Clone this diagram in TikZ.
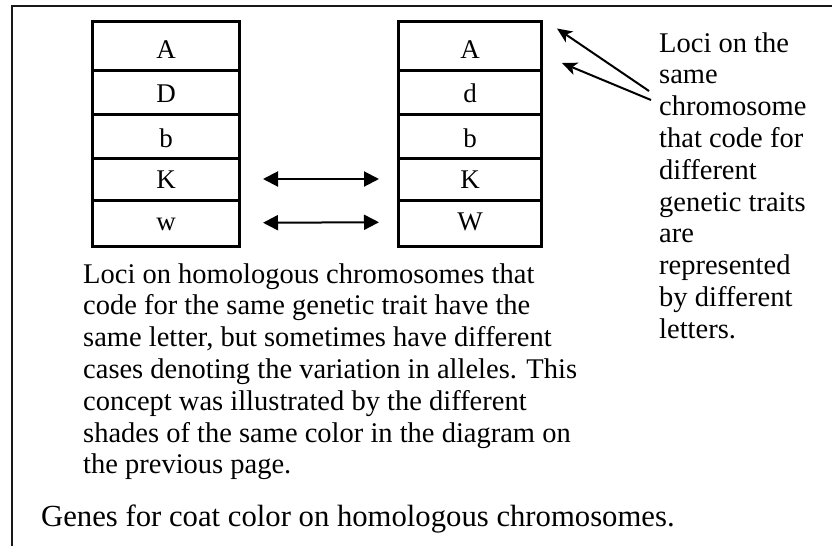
\documentclass[tikz,border=0pt]{standalone}
\usepackage{fontspec}
\setmainfont{Liberation Serif}
\usetikzlibrary{arrows.meta}
\begin{document}
\begin{tikzpicture}[x=1pt,y=-1pt,
  cell/.style={draw, line width=3pt, inner sep=0pt, outer sep=0pt},
  leftcell/.style={cell, minimum width=147pt},
  rightcell/.style={cell, minimum width=143pt},
  locus/.style={anchor=base, inner sep=0pt, font=\fontsize{27}{32}\selectfont},
  pairarrow/.style={line width=2pt,
    {Triangle[length=15pt,width=15pt]}-{Triangle[length=15pt,width=15pt]}},
  pointer/.style={line width=2pt, -{Stealth[length=15pt,width=13pt,inset=4pt]}},
  note/.style={anchor=base west, align=left, inner sep=0pt,
    font=\fontsize{28.5}{31.8}\selectfont}]
\useasboundingbox (0,0) rectangle (832,546);

% frame
\draw[line width=2pt, black!90] (12,546) -- (12,6) -- (832,6);

% left chromosome
\node[leftcell, minimum height=48.5pt] (L1) at (166,45.75) {};
\node[leftcell, minimum height=44pt]   (L2) at (166,92) {};
\node[leftcell, minimum height=44pt]   (L3) at (166,136) {};
\node[leftcell, minimum height=42pt]   (L4) at (166,179) {};
\node[leftcell, minimum height=46.5pt] (L5) at (166,223.25) {};
\node[locus] (la) at (166,58)  {A};
\node[locus] (ld) at (166,102) {D};
\node[locus] (lb) at (166,147) {b};
\node[locus] (lk) at (166,188) {K};
\node[locus] (lw) at (166,230) {w};

% right chromosome
\node[rightcell, minimum height=48.5pt] (R1) at (470,45.75) {};
\node[rightcell, minimum height=44pt]   (R2) at (470,92) {};
\node[rightcell, minimum height=44pt]   (R3) at (470,136) {};
\node[rightcell, minimum height=42pt]   (R4) at (470,179) {};
\node[rightcell, minimum height=46.5pt] (R5) at (470,223.25) {};
\node[locus] (ra) at (470,58)  {A};
\node[locus] (rd) at (470,102) {d};
\node[locus] (rb) at (470,147) {b};
\node[locus] (rk) at (470,188) {K};
\node[locus] (rw) at (470,230) {W};

% homologous loci
\draw[pairarrow] ([xshift=23.5pt]L4.east) -- ([xshift=-19.5pt]R4.west);
\draw[pairarrow] ([xshift=23.5pt,yshift=0.5pt]L5.east) -- ([xshift=-19.5pt,yshift=1pt]R5.west);

% loci on the same chromosome
\coordinate (s1) at (649,91);
\coordinate (s2) at (651,100);
\draw[pointer] (s1) -- ([shift={(15.5pt,17.25pt)}]R1.east);
\draw[pointer] (s2) -- ([shift={(20.5pt,29pt)}]R2.east);

% multi-line notes are placed by the baseline of their last line
\node[note] (sametext) at (659,338.2) {Loci on the\\same\\chromosome\\that code for\\different\\genetic traits\\are\\represented\\by different\\letters.};

\node[note] (homtext) at (83,473.8) {Loci on homologous chromosomes that\\code for the same genetic trait have the\\same letter, but sometimes have different\\cases denoting the variation in alleles. This\\concept was illustrated by the different\\shades of the same color in the diagram on\\the previous page.};

\node[anchor=base west, inner sep=0pt, font=\fontsize{30.7}{36}\selectfont] (caption) at (41,526) {Genes for coat color on homologous chromosomes.};
\end{tikzpicture}
\end{document}
